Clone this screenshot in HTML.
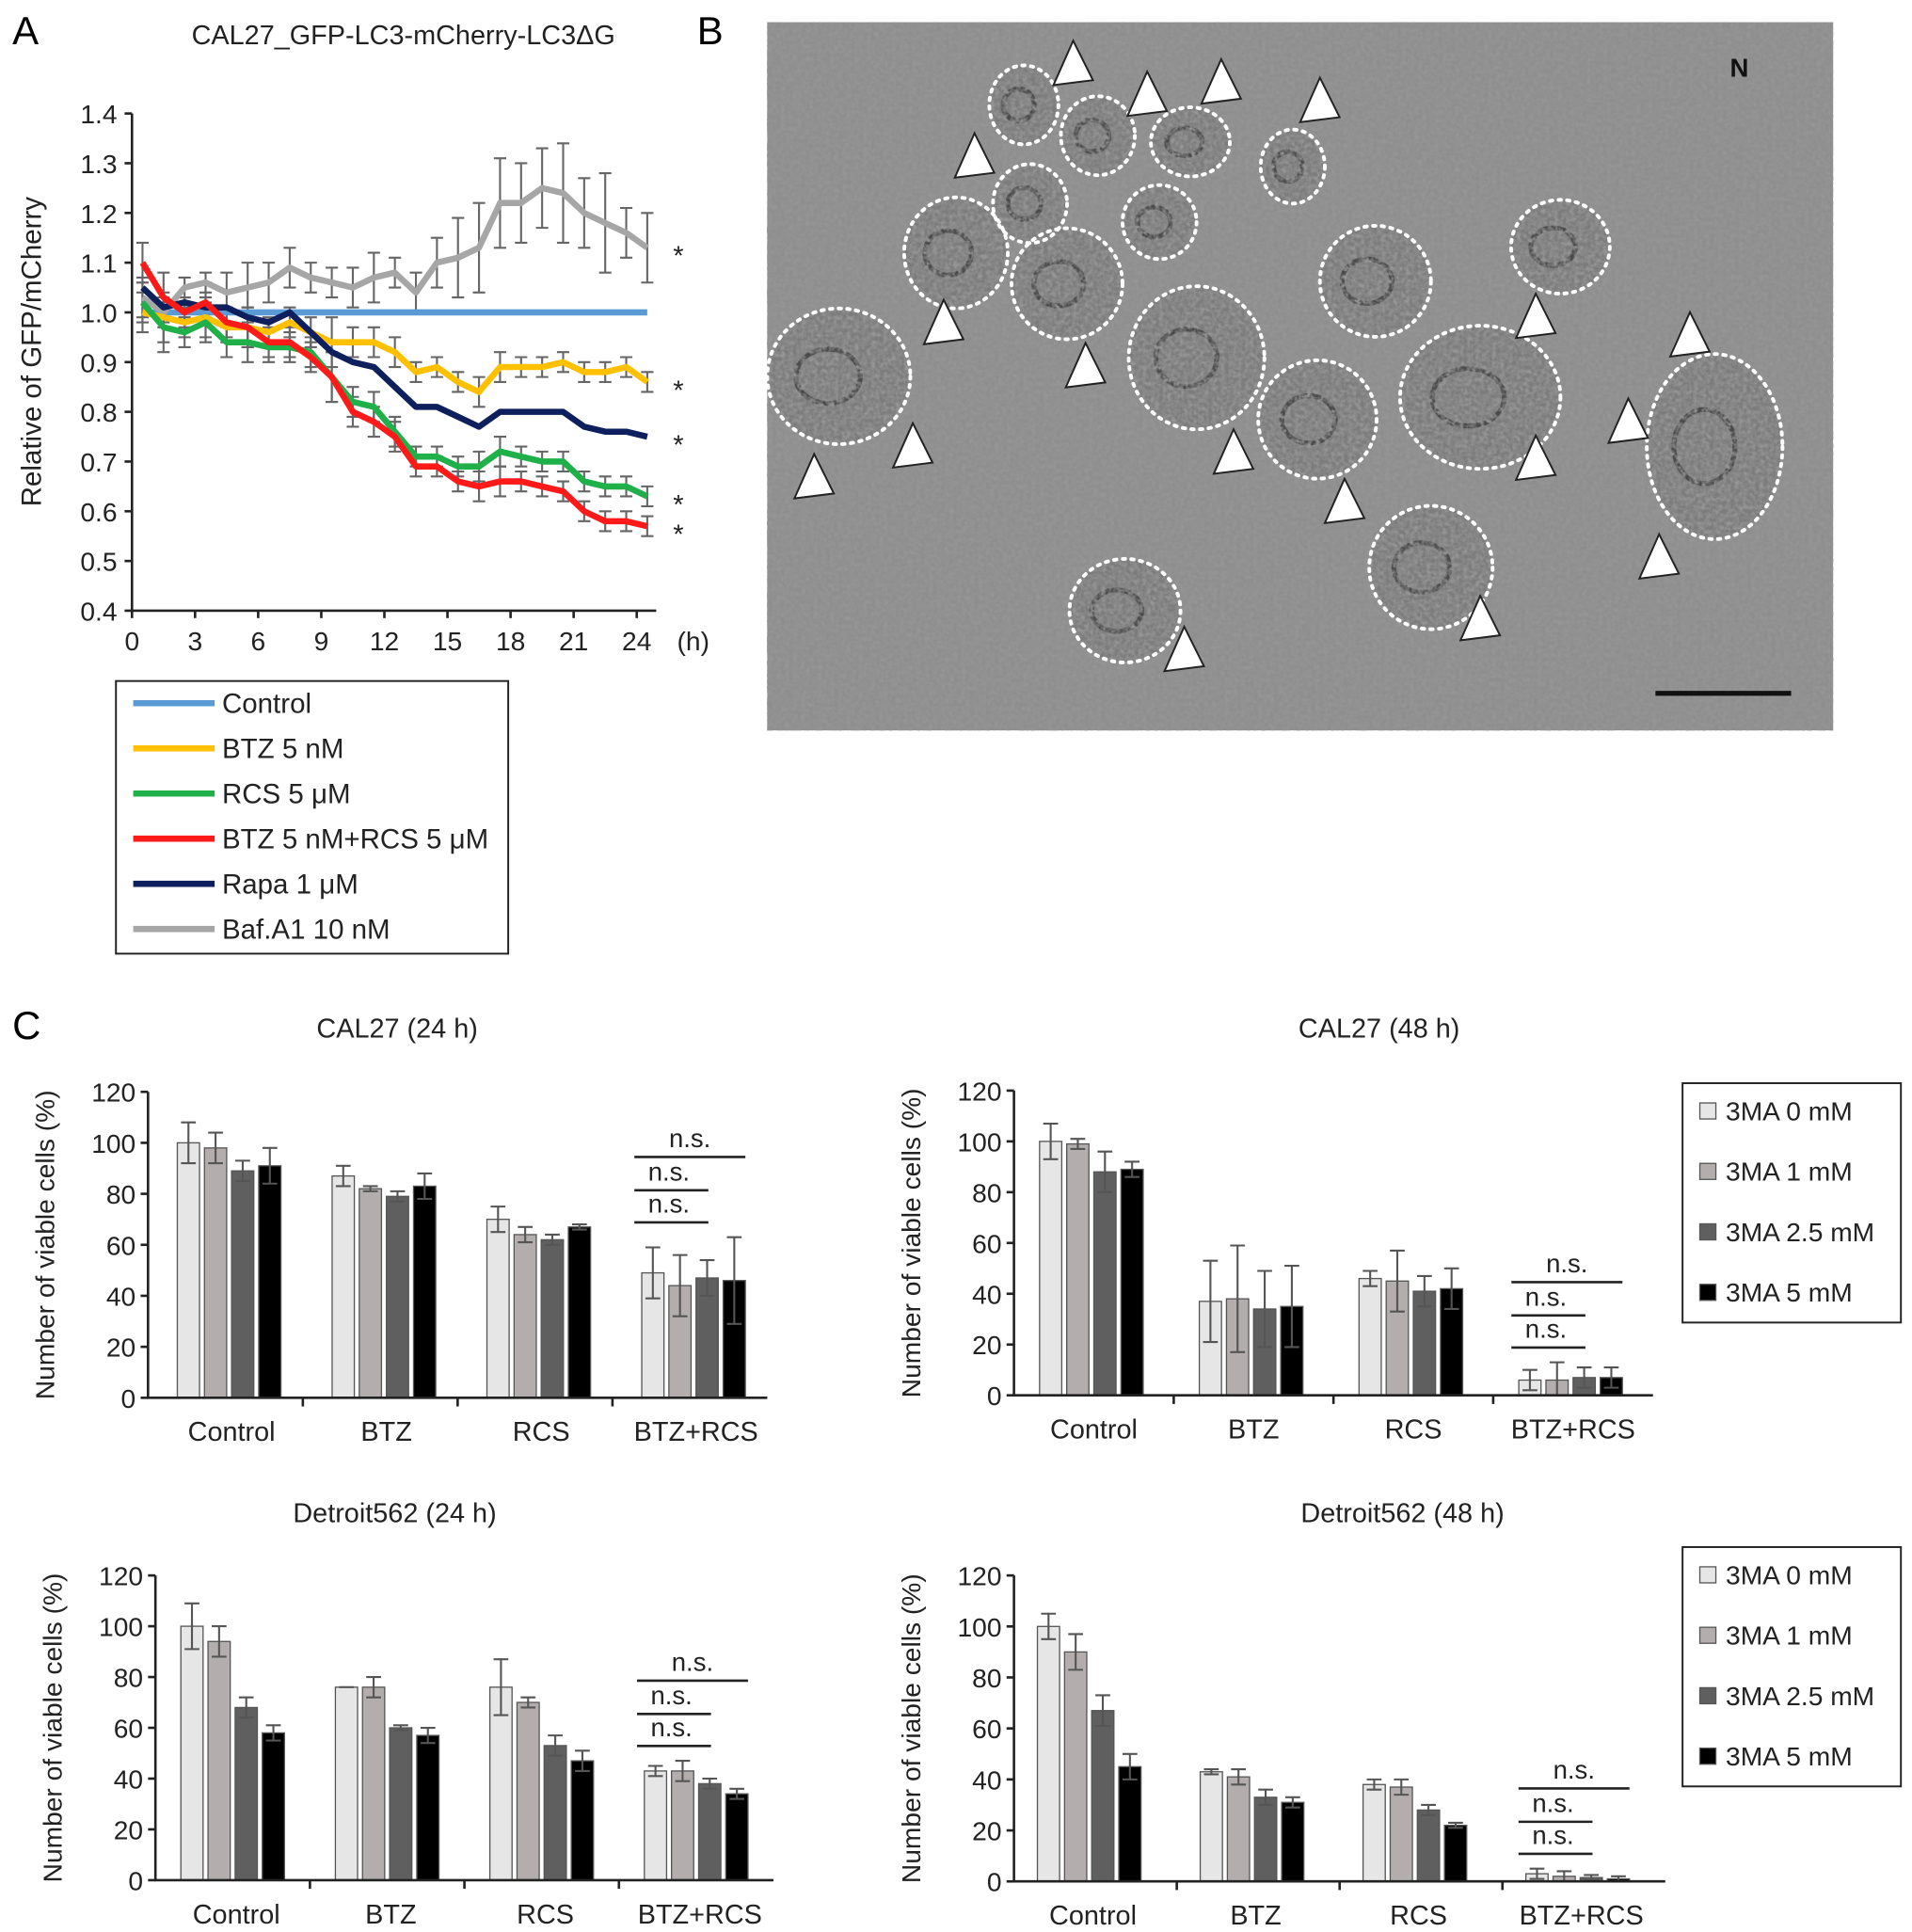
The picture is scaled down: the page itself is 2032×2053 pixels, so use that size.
<!DOCTYPE html>
<html><head><meta charset="utf-8"><style>
html,body{margin:0;padding:0;background:#fff}
svg{display:block;font-family:"Liberation Sans",Arial,sans-serif}
</style></head><body>
<svg id="fig" width="2032" height="2053" viewBox="0 0 1550 1566" xmlns="http://www.w3.org/2000/svg">
<text x="10" y="36" font-size="32">A</text>
<text x="565" y="36" font-size="32">B</text>
<text x="10" y="842" font-size="32">C</text>
<text x="327" y="36" font-size="22" text-anchor="middle" fill="#222">CAL27_GFP-LC3-mCherry-LC3ΔG</text>
<g id="gA"></g>
<g id="gB"></g>
<g id="gC"></g>
</svg>
<script>
const NS="http://www.w3.org/2000/svg";
function mk(p,t,a){const e=document.createElementNS(NS,t);for(const k in a)e.setAttribute(k,a[k]);p.appendChild(e);return e;}
function tx(p,x,y,s,fs,anchor,extra){const e=mk(p,'text',Object.assign({x:x,y:y,'font-size':fs,'text-anchor':anchor||'start',fill:'#222'},extra||{}));e.textContent=s;return e;}

// ===== Panel A data =====
const hours=[0.5,1.5,2.5,3.5,4.5,5.5,6.5,7.5,8.5,9.5,10.5,11.5,12.5,13.5,14.5,15.5,16.5,17.5,18.5,19.5,20.5,21.5,22.5,23.5,24.5];
const seriesNames=["Control","BTZ 5 nM","RCS 5 μM","BTZ 5 nM+RCS 5 μM","Rapa 1 μM","Baf.A1 10 nM"];
const seriesColors=["#5b9bd5","#ffc000","#1fb04a","#ff1a1a","#0d1f5c","#a6a6a6"];
const ctrlVals=[1.0,1.0,1.0,1.0,1.0,1.0,1.0,1.0,1.0,1.0,1.0,1.0,1.0,1.0,1.0,1.0,1.0,1.0,1.0,1.0,1.0,1.0,1.0,1.0,1.0];
const btzVals=[1.0,0.99,0.98,0.99,0.97,0.97,0.96,0.98,0.96,0.94,0.94,0.94,0.92,0.88,0.89,0.86,0.84,0.89,0.89,0.89,0.90,0.88,0.88,0.89,0.86];
const rcsVals=[1.02,0.97,0.96,0.98,0.94,0.94,0.93,0.93,0.92,0.87,0.82,0.81,0.76,0.71,0.71,0.69,0.69,0.72,0.71,0.70,0.70,0.66,0.65,0.65,0.63];
const comboVals=[1.10,1.03,1.0,1.02,0.98,0.97,0.94,0.94,0.91,0.87,0.80,0.78,0.75,0.69,0.69,0.66,0.65,0.66,0.66,0.65,0.64,0.60,0.58,0.58,0.57];
const rapaVals=[1.05,1.01,1.02,1.01,1.01,0.99,0.98,1.0,0.96,0.92,0.90,0.89,0.85,0.81,0.81,0.79,0.77,0.80,0.80,0.80,0.80,0.77,0.76,0.76,0.75];
const bafVals=[1.03,1.0,1.05,1.06,1.04,1.05,1.06,1.09,1.07,1.06,1.05,1.07,1.08,1.04,1.10,1.11,1.13,1.22,1.22,1.25,1.24,1.20,1.18,1.16,1.13];
const bafErr=[0.04,0.03,0.02,0.02,0.04,0.05,0.04,0.04,0.03,0.03,0.04,0.05,0.03,0.04,0.05,0.08,0.09,0.09,0.08,0.08,0.10,0.07,0.1,0.05,0.07];
const otherErr=[0.04,0.05,0.03,0.04,0.03,0.04,0.03,0.03,0.03,0.05,0.03,0.03,0.03,0.02,0.02,0.02,0.03,0.03,0.02,0.02,0.02,0.02,0.02,0.02,0.02];
const yTicksA=[0.4,0.5,0.6,0.7,0.8,0.9,1.0,1.1,1.2,1.3,1.4];
const xTicksA=[0,3,6,9,12,15,18,21,24];

const A=document.getElementById('gA');
const ax0=107,axPx=17.05,ay0=495,ayPx=403;
const xA=h=>ax0+h*axPx, yA=v=>ay0-(v-0.4)*ayPx;
const allSeries=[ctrlVals,btzVals,rcsVals,comboVals,rapaVals,bafVals];
[[bafVals,bafErr],[rcsVals,otherErr],[comboVals,otherErr],[btzVals,otherErr]].forEach(([vals,err])=>{
  vals.forEach((v,i)=>{
    const x=xA(hours[i]);
    const e=mk(A,'path',{d:`M${x},${yA(v+err[i])}V${yA(v-err[i])}M${x-5},${yA(v+err[i])}h10M${x-5},${yA(v-err[i])}h10`,stroke:'#666','stroke-width':1.6,fill:'none'});
    
    
  });
});
const axA=mk(A,'path',{d:`M${ax0},92V${ay0}H532`,stroke:'#222','stroke-width':2,fill:'none'});


yTicksA.forEach(v=>{mk(A,'line',{x1:ax0-6,x2:ax0,y1:yA(v),y2:yA(v),stroke:'#222','stroke-width':2});
  const t=tx(A,ax0-12,yA(v)+8,v.toFixed(1),21.5,'end');
  
  });
xTicksA.forEach(h=>{mk(A,'line',{x1:xA(h),x2:xA(h),y1:ay0,y2:ay0+6,stroke:'#222','stroke-width':2});
  const t=tx(A,xA(h),ay0+32,String(h),21.5,'middle');
  
  });
tx(A,562,527,'(h)',21.5,'middle');
const yt=tx(A,33,285,'Relative of GFP/mCherry',22.5,'middle',{transform:'rotate(-90 33 285)'});


[0,1,2,3,4,5].forEach(k=>{
  const si=[0,5,1,4,2,3][k];
  const vals=allSeries[si];
  const d=vals.map((v,i)=>(i?'L':'M')+xA(hours[i]).toFixed(1)+','+yA(v).toFixed(1)).join('');
  const p=mk(A,'path',{d:d,stroke:seriesColors[si],'stroke-width':5,fill:'none','stroke-linejoin':'round'});
  
  
});
[bafVals,btzVals,rapaVals,rcsVals,comboVals].forEach(vals=>{
  const t=tx(A,550,yA(vals[24])+14,'*',22,'middle');
  
  
});
const lg=mk(A,'rect',{x:94,y:552,width:318,height:221,fill:'#fff',stroke:'#222','stroke-width':1.5});


seriesNames.forEach((n,i)=>{
  const y=570+i*36.6;
  mk(A,'line',{x1:108,x2:174,y1:y,y2:y,stroke:seriesColors[i],'stroke-width':5});
  const t=tx(A,180,y+8,n,22.5,'start');
  
  
});

// ===== Panel B (EM image) =====
const B=document.getElementById('gB');
const defs=mk(B,'defs',{});
const f=mk(defs,'filter',{id:'noise',x:0,y:0,width:'100%',height:'100%'});
mk(f,'feTurbulence',{type:'fractalNoise',baseFrequency:'0.3',numOctaves:2,seed:3});
mk(f,'feColorMatrix',{type:'matrix',values:'0 0 0 0 0.3  0 0 0 0 0.3  0 0 0 0 0.3  1.2 1.2 1.2 0 -1.4'});
const bg=mk(B,'rect',{x:622,y:18,width:864,height:574,fill:'#8e8e8e'});


const ells=[[830,85,28,32],[890,110,30,32],[965,115,32,28],[1048,135,26,30],[835,165,30,32],[775,205,42,45],[865,230,45,45],[940,180,30,30],[1115,228,45,45],[1265,200,40,38],[680,305,58,55],[970,290,55,58],[1068,340,48,48],[1200,322,65,58],[1390,362,55,75],[1160,460,50,50],[912,495,45,42]];
ells.forEach(e=>{
  mk(B,'ellipse',{cx:e[0],cy:e[1],rx:e[2],ry:e[3],fill:'#7c7c7c'});
  mk(B,'ellipse',{cx:e[0]-e[2]*0.15,cy:e[1],rx:e[2]*0.45,ry:e[3]*0.4,fill:'none',stroke:'#4a4a4a','stroke-width':4});
});
mk(B,'rect',{x:622,y:18,width:864,height:574,filter:'url(#noise)'});
ells.forEach(e=>{mk(B,'ellipse',{cx:e[0],cy:e[1],rx:e[2],ry:e[3],fill:'none',stroke:'#fff','stroke-width':3,'stroke-dasharray':'2 5','stroke-linecap':'round'});});
const tris=[[870,55],[930,80],[990,70],[1070,85],[790,130],[765,265],[880,300],[1245,260],[1370,275],[1320,345],[660,390],[740,365],[1000,370],[1090,410],[1245,375],[1345,455],[1200,505],[960,530]];
tris.forEach(t=>{mk(B,'polygon',{points:`${t[0]},${t[1]-22} ${t[0]-16},${t[1]+14} ${t[0]+16},${t[1]+10}`,fill:'#fff',stroke:'#222','stroke-width':1.5});});
tx(B,1410,62,'N',21,'middle',{'font-weight':'bold',fill:'#111'});
mk(B,'line',{x1:1342,x2:1452,y1:562,y2:562,stroke:'#111','stroke-width':4});

// ===== Panel C data =====
const groups=["Control","BTZ","RCS","BTZ+RCS"];
const doseLabels=["3MA 0 mM","3MA 1 mM","3MA 2.5 mM","3MA 5 mM"];
const barColors=["#e6e6e6","#b3adad","#5f5f5f","#000000"];
const cal24Vals=[[100,98,89,91],[87,82,79,83],[70,64,62,67],[49,44,47,46]];
const cal24Err=[[8,6,4,7],[4,1,2,5],[5,3,2,1],[10,12,7,17]];
const cal48Vals=[[100,99,88,89],[37,38,34,35],[46,45,41,42],[6,6,7,7]];
const cal48Err=[[7,2,8,3],[16,21,15,16],[3,12,6,8],[4,7,4,4]];
const det24Vals=[[100,94,68,58],[76,76,60,57],[76,70,53,47],[43,43,38,34]];
const det24Err=[[9,6,4,3],[0,4,1,3],[11,2,4,4],[2,4,2,2]];
const det48Vals=[[100,90,67,45],[43,41,33,31],[38,37,28,22],[3,2,1.5,1]];
const det48Err=[[5,7,6,5],[1,3,3,2],[2,3,2,1],[2,2,1,1]];
const yTicksC=[0,20,40,60,80,100,120];

const C=document.getElementById('gC');
function barChart(cfg,vals,errs){
  const g=mk(C,'g',{});
  
  
  const y=v=>cfg.y0-v*(cfg.y0-cfg.y120)/120;
  const gw=(cfg.x1-cfg.x0)/4;
  tx(g,cfg.tx,cfg.ty,cfg.title,22,'middle');
  const yl=tx(g,cfg.x0-76,(cfg.y0+cfg.y120)/2,'Number of viable cells (%)',21.5,'middle',{transform:`rotate(-90 ${cfg.x0-76} ${(cfg.y0+cfg.y120)/2})`});
  
  
  vals.forEach((gv,gi)=>{
    const cx=cfg.x0+gw*(gi+0.5)+cfg.shift;
    gv.forEach((v,bi)=>{
      const bx=cx-44+bi*22;
      const r=mk(g,'rect',{x:bx,y:y(v),width:18,height:cfg.y0-y(v),fill:barColors[bi],stroke:'#555','stroke-width':1});
      
      
      const e=errs[gi][bi],mx=bx+9;
      mk(g,'path',{d:`M${mx},${y(v+e)}V${y(Math.max(0,v-e))}M${mx-6},${y(v+e)}h12M${mx-6},${y(Math.max(0,v-e))}h12`,stroke:'#555','stroke-width':1.6,fill:'none'});
    });
    const t=tx(g,cfg.x0+gw*(gi+0.5)+cfg.lshift,cfg.y0+35,groups[gi],22,'middle');
    
    
  });
  mk(g,'path',{d:`M${cfg.x0},${cfg.y120}V${cfg.y0}H${cfg.x1}`,stroke:'#222','stroke-width':2,fill:'none'});
  for(let i=1;i<4;i++)mk(g,'line',{x1:cfg.x0+gw*i,x2:cfg.x0+gw*i,y1:cfg.y0,y2:cfg.y0+7,stroke:'#222','stroke-width':2});
  yTicksC.forEach(v=>{mk(g,'line',{x1:cfg.x0-6,x2:cfg.x0,y1:y(v),y2:y(v),stroke:'#222','stroke-width':2});
    const t=tx(g,cfg.x0-10,y(v)+8,String(v),21.5,'end');
    
    });
  const cx=cfg.x0+gw*3.5+cfg.shift;
  const top=Math.max(...vals[3].map((v,i)=>v+errs[3][i]));
  const base=y(top)-12;
  [[base,cx-50,cx+10],[base-26,cx-50,cx+10],[base-53,cx-50,cx+40]].forEach(([ly,a,b2],k)=>{
    mk(g,'line',{x1:a,x2:b2,y1:ly,y2:ly,stroke:'#222','stroke-width':2});
    const t=tx(g,(k==2?cx-5:cx-22),ly-8,'n.s.',21,'middle');
    
    
  });
}
barChart({name:'chart-cal27-24h',title:'CAL27 (24 h)',tx:322,ty:841,x0:120,x1:622,y0:1133,y120:885,shift:5,lshift:5},cal24Vals,cal24Err);
barChart({name:'chart-cal27-48h',title:'CAL27 (48 h)',tx:1118,ty:841,x0:822,x1:1340,y0:1131,y120:884,shift:0,lshift:0},cal48Vals,cal48Err);
barChart({name:'chart-detroit562-24h',title:'Detroit562 (24 h)',tx:320,ty:1234,x0:126,x1:627,y0:1524,y120:1277,shift:2,lshift:3},det24Vals,det24Err);
barChart({name:'chart-detroit562-48h',title:'Detroit562 (48 h)',tx:1137,ty:1234,x0:822,x1:1350,y0:1525,y120:1277,shift:-3,lshift:-2},det48Vals,det48Err);
[878,1254].forEach(ty=>{
  const r=mk(C,'rect',{x:1364,y:ty,width:177,height:194,fill:'#fff',stroke:'#222','stroke-width':1.5});
  
  
  doseLabels.forEach((d,i)=>{
    const yy=ty+22+i*49;
    mk(C,'rect',{x:1378,y:yy-6,width:13,height:13,fill:barColors[i],stroke:'#555','stroke-width':1});
    const t=tx(C,1399,yy+8,d,21.5,'start');
    
    
  });
});
</script>
</body></html>
